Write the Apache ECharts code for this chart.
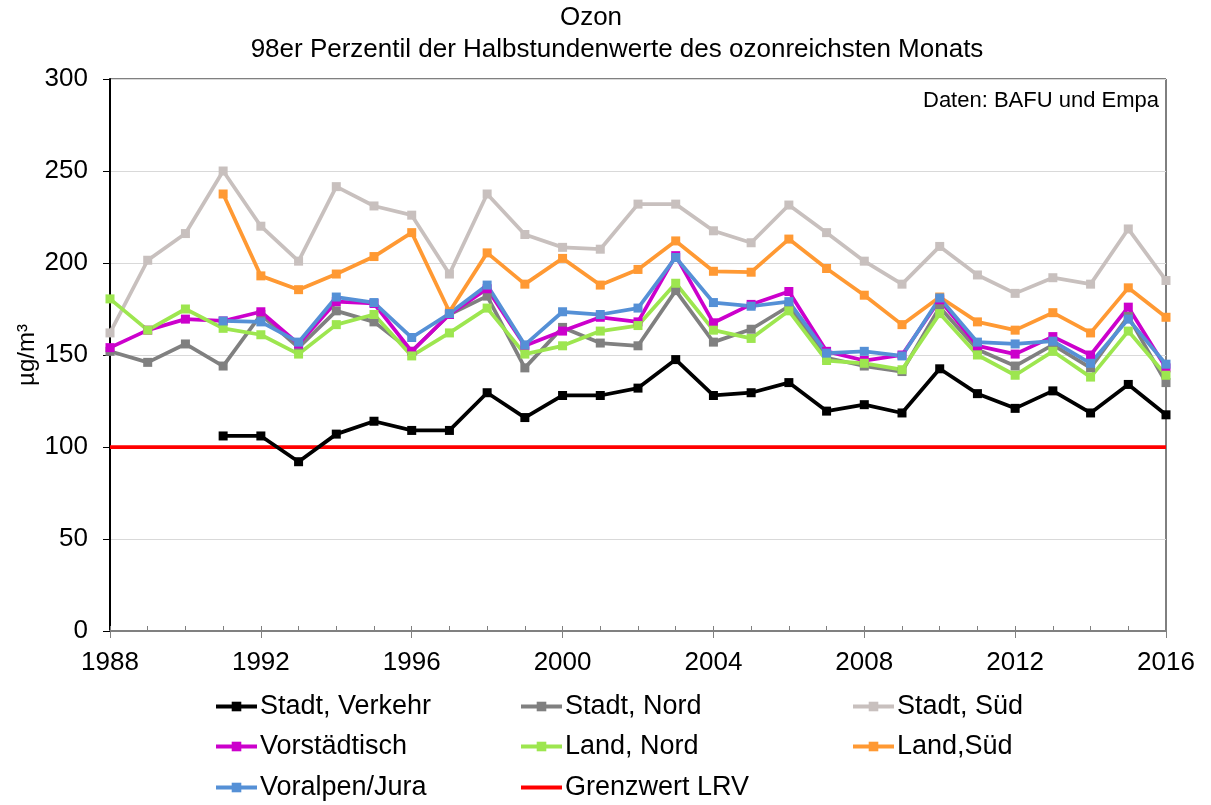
<!DOCTYPE html>
<html>
<head>
<meta charset="utf-8">
<script src="https://cdn.jsdelivr.net/npm/echarts@6/dist/echarts.min.js"></script>
<style>
  html, body { margin: 0; padding: 0; background: #fff; }
  #chart { width: 1211px; height: 805px; }
</style>
</head>
<body>
<div id="chart"></div>
<script>
// Ozone: 98th percentile of half-hourly values in the month with most ozone (µg/m³)
const years = [1988, 1989, 1990, 1991, 1992, 1993, 1994, 1995, 1996, 1997,
  1998, 1999, 2000, 2001, 2002, 2003, 2004, 2005, 2006, 2007,
  2008, 2009, 2010, 2011, 2012, 2013, 2014, 2015, 2016];

const stadtVerkehr = [null, null, null, 106, 106, 92, 107, 114, 109, 109,
  129.5, 116, 128, 128, 132, 147.5, 128, 129.5, 135, 119.5,
  123, 118.5, 142.5, 129, 121, 130.5, 118.5, 134, 117.5];
const stadtNord = [152, 146, 156, 144, 172, 154, 174, 168, 152, 172,
  182, 143, 165, 156.5, 155, 185, 157, 164, 176.5, 148.5,
  144, 141, 176, 153, 144, 155.5, 143, 171, 135];
const stadtSued = [162, 201.5, 216, 250, 220, 201, 241.5, 231, 226, 194,
  237.5, 215.5, 208.5, 207.5, 232, 232, 217.5, 211, 231.5, 216.5,
  201, 188.5, 209, 193.5, 183.5, 192, 188.5, 218.5, 190.5];
const vorstaedtisch = [154, 163.5, 169.5, 168.5, 173.5, 156, 179, 178, 152, 172,
  186, 155, 163, 170.5, 168, 204, 167.5, 177.5, 184.5, 152,
  147, 150, 180, 155, 150.5, 160, 150, 176, 143];
const landNord = [180.5, 163.5, 175, 164.5, 161, 150.5, 166.5, 172, 149.5, 162,
  175.5, 150.5, 155, 163, 166, 189, 163.5, 159, 174, 147,
  145.5, 142, 172.5, 150, 139, 152, 138, 163, 139];
const landSued = [null, null, null, 237.5, 193, 185.5, 194, 203.5, 216.5, 173.5,
  205.5, 188.5, 202.5, 188, 196.5, 212, 195.5, 195, 213, 197,
  182.5, 166.5, 181.5, 168, 163.5, 173, 162, 186.5, 170.5];
const voralpenJura = [null, null, null, 168.5, 168, 157, 181.5, 178.5, 159.5, 172.5,
  188, 155.5, 173.5, 172, 175.5, 203, 178.5, 176.5, 179, 151,
  152, 149.5, 181, 157, 156, 157.5, 145.5, 169.5, 145];
const grenzwertLRV = 100;

const yTicks = [0, 50, 100, 150, 200, 250, 300];

const FONT = '"Liberation Sans", Arial, sans-serif';

function pairs(values) {
  return years.map((y, i) => [y, values[i] == null ? '-' : values[i]]);
}

function lineSeries(name, values, color) {
  return {
    name: name,
    type: 'line',
    data: pairs(values),
    symbol: 'rect',
    symbolSize: 9,
    lineStyle: { color: color, width: 3.75 },
    itemStyle: { color: color },
    emphasis: { disabled: true },
    animation: false
  };
}

const series = [
  lineSeries('Stadt, Verkehr', stadtVerkehr, '#000000'),
  lineSeries('Stadt, Nord', stadtNord, '#808080'),
  lineSeries('Stadt, Süd', stadtSued, '#C8C0BE'),
  lineSeries('Vorstädtisch', vorstaedtisch, '#CC00CC'),
  lineSeries('Land, Nord', landNord, '#9DE64F'),
  lineSeries('Land,Süd', landSued, '#FF9933'),
  lineSeries('Voralpen/Jura', voralpenJura, '#5590D6'),
  {
    name: 'Grenzwert LRV',
    type: 'line',
    data: [[years[0], grenzwertLRV], [years[years.length - 1], grenzwertLRV]],
    symbol: 'none',
    lineStyle: { color: '#FF0000', width: 3.75 },
    itemStyle: { color: '#FF0000', opacity: 0 },
    emphasis: { disabled: true },
    z: 1,
    animation: false
  }
];

// legend: three columns, three rows; one component per entry for exact placement
const legendColumns = [214, 519, 851];
const legendRows = [693, 733, 774];
const legendLayout = [
  ['Stadt, Verkehr', 0, 0], ['Stadt, Nord', 1, 0], ['Stadt, Süd', 2, 0],
  ['Vorstädtisch', 0, 1], ['Land, Nord', 1, 1], ['Land,Süd', 2, 1],
  ['Voralpen/Jura', 0, 2], ['Grenzwert LRV', 1, 2]
];
const legends = legendLayout.map(([name, c, r]) => ({
  left: legendColumns[c],
  top: legendRows[r],
  padding: 0,
  itemWidth: 41,
  itemHeight: 12,
  selectedMode: false,
  lineStyle: { width: 4 },
  textStyle: { fontFamily: FONT, fontSize: 27, color: '#000', padding: [0, 0, 0, -2] },
  data: [name]
}));

const chart = echarts.init(document.getElementById('chart'), null, { renderer: 'canvas' });
chart.setOption({
  backgroundColor: '#fff',
  animation: false,
  title: [
    {
      text: 'Ozon', left: 591, top: 5, textAlign: 'center', padding: 0,
      textStyle: { fontFamily: FONT, fontSize: 26, fontWeight: 'normal', color: '#000' }
    },
    {
      text: '98er Perzentil der Halbstundenwerte des ozonreichsten Monats', left: 617, top: 37, textAlign: 'center', padding: 0,
      textStyle: { fontFamily: FONT, fontSize: 26, fontWeight: 'normal', color: '#000' }
    }
  ],
  grid: {
    left: 110, right: 45, top: 79, bottom: 174,
    show: true, borderColor: '#000', borderWidth: 1, backgroundColor: 'transparent'
  },
  xAxis: [
    {
      type: 'value', min: 1988, max: 2016, interval: 1,
      axisLine: { show: true, lineStyle: { color: '#808080', width: 2 } },
      axisTick: { show: true, inside: true, length: 5, lineStyle: { color: '#808080', width: 1 } },
      axisLabel: { show: false },
      splitLine: { show: false }
    },
    {
      type: 'value', min: 1988, max: 2016, interval: 4, position: 'bottom',
      axisLine: { show: false },
      axisTick: { show: true, inside: false, length: 7, lineStyle: { color: '#808080', width: 1 } },
      axisLabel: { show: true, fontFamily: FONT, fontSize: 26, color: '#000', margin: 19, formatter: v => String(v) },
      splitLine: { show: false }
    }
  ],
  yAxis: {
    type: 'value', min: yTicks[0], max: yTicks[yTicks.length - 1], interval: 50,
    axisLine: { show: true, lineStyle: { color: '#000', width: 2 } },
    axisTick: { show: true, inside: false, length: 7, lineStyle: { color: '#000', width: 1 } },
    axisLabel: { fontFamily: FONT, fontSize: 26, color: '#000', margin: 22 },
    splitLine: { show: true, lineStyle: { color: '#D9D9D9', width: 1 } }
  },
  legend: legends,
  graphic: [
    {
      type: 'text', x: 27, y: 355, rotation: Math.PI / 2,
      style: { text: 'µg/m³', font: '24px ' + FONT, fill: '#000', textAlign: 'center', textVerticalAlign: 'middle' }
    },
    {
      type: 'text', x: 1159, y: 101,
      style: { text: 'Daten: BAFU und Empa', font: '22px ' + FONT, fill: '#000', textAlign: 'right', textVerticalAlign: 'middle' }
    }
  ],
  series: series
});
</script>
</body>
</html>
